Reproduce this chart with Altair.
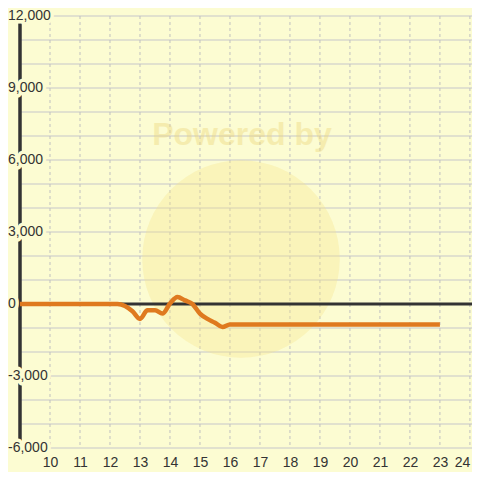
import altair as alt
import pandas as pd

# data
hours = [9.0, 10.0, 11.0, 12.0, 12.25, 12.5, 12.75, 13.0, 13.25, 13.5, 13.75, 14.0,
         14.25, 14.5, 14.75, 15.0, 15.25, 15.5, 15.75, 16.0, 17.0, 18.0, 19.0,
         20.0, 21.0, 22.0, 23.0]
values = [0, 0, 0, 0, 0, -80, -300, -620, -260, -260, -400, 20,
          290, 150, 0, -400, -620, -780, -960, -850, -850, -850, -850,
          -850, -850, -850, -850]
y_tick_values = [-6000, -3000, 0, 3000, 6000, 9000, 12000]
y_tick_labels = ["-6,000", "-3,000", "0", "3,000", "6,000", "9,000", "12,000"]
y_grid_values = [-6000, -5000, -4000, -3000, -2000, -1000, 0, 1000, 2000, 3000,
                 4000, 5000, 6000, 7000, 8000, 9000, 10000, 11000, 12000]
x_tick_values = [10, 11, 12, 13, 14, 15, 16, 17, 18, 19, 20, 21, 22, 23, 24]

BG = "#FCFCD2"
DARK = "#333333"
ORANGE = "#DF7A1F"
FONT = "Liberation Sans"

line_df = pd.DataFrame({"h": hours, "v": values})
lab_df = pd.DataFrame({"v": y_tick_values, "label": y_tick_labels})
ygrid_df = pd.DataFrame({"g": y_grid_values})
xgrid_df = pd.DataFrame({"t": x_tick_values})

xs = alt.Scale(domain=[9, 24.07], nice=False, zero=False)
ys = alt.Scale(domain=[-6000, 12000], nice=False)

xaxis = alt.Axis(
    values=x_tick_values, title=None, domain=False, ticks=False,
    grid=False, labelOverlap=False,
    labelAlign={"expr": "datum.value >= 24 ? 'right' : 'center'"},
    labelFont=FONT, labelFontSize=14, labelColor=DARK, labelPadding=7,
    labelBaseline="top")


def X(field):
    return alt.X(field, scale=xs, axis=xaxis)


def Y(field):
    return alt.Y(field, scale=ys, axis=None)


ygrid = alt.Chart(ygrid_df).mark_rule(color="#C6C6CA", strokeWidth=1).encode(
    y=Y("g:Q"))

xgrid = alt.Chart(xgrid_df).mark_rule(
    color="#C0C0C0", strokeWidth=1, strokeDash=[3, 3]).encode(x=X("t:Q"))

watermark_circle = alt.Chart(pd.DataFrame({"a": [0]})).mark_circle(
    color="#F7E38A", opacity=0.33, size=39000
).encode(x=alt.value(221), y=alt.value(243))

watermark_text = alt.Chart(pd.DataFrame({"t": ["Powered by"]})).mark_text(
    font=FONT, fontSize=32, fontWeight="bold",
    color="#EDD67A", opacity=0.4, align="center", baseline="middle"
).encode(x=alt.value(222), y=alt.value(119), text="t:N")

zero_rule = alt.Chart(pd.DataFrame({"z": [0]})).mark_rule(
    color=DARK, strokeWidth=3).encode(y=Y("z:Q"))

y_axis_rule = alt.Chart(pd.DataFrame({"x0": [9]})).mark_rule(
    color=DARK, strokeWidth=3.5).encode(x=X("x0:Q"))

line = alt.Chart(line_df).mark_line(
    color=ORANGE, strokeWidth=4.5, interpolate="monotone", strokeJoin="round",
    strokeCap="butt").encode(x=X("h:Q"), y=Y("v:Q"))

halo = alt.Chart(lab_df).mark_text(
    font=FONT, fontSize=14, align="left", baseline="middle",
    stroke=BG, strokeWidth=7, color=BG, strokeJoin="round"
).encode(x=alt.value(-12), y=Y("v:Q"), text="label:N")
ylabels = alt.Chart(lab_df).mark_text(
    font=FONT, fontSize=14, align="left", baseline="middle", color=DARK
).encode(x=alt.value(-12), y=Y("v:Q"), text="label:N")

chart = alt.layer(
    ygrid, xgrid, watermark_circle, watermark_text, zero_rule,
    y_axis_rule, line, halo, ylabels
).properties(
    width=452, height=432, background=BG,
    autosize=alt.AutoSizeParams(type="none"),
    padding={"left": 12, "top": 8, "right": 0, "bottom": 24},
).configure_view(stroke=None, fill=BG).configure_axis(grid=False)

chart.save("out.html", embed_options={"renderer": "svg", "actions": False})
